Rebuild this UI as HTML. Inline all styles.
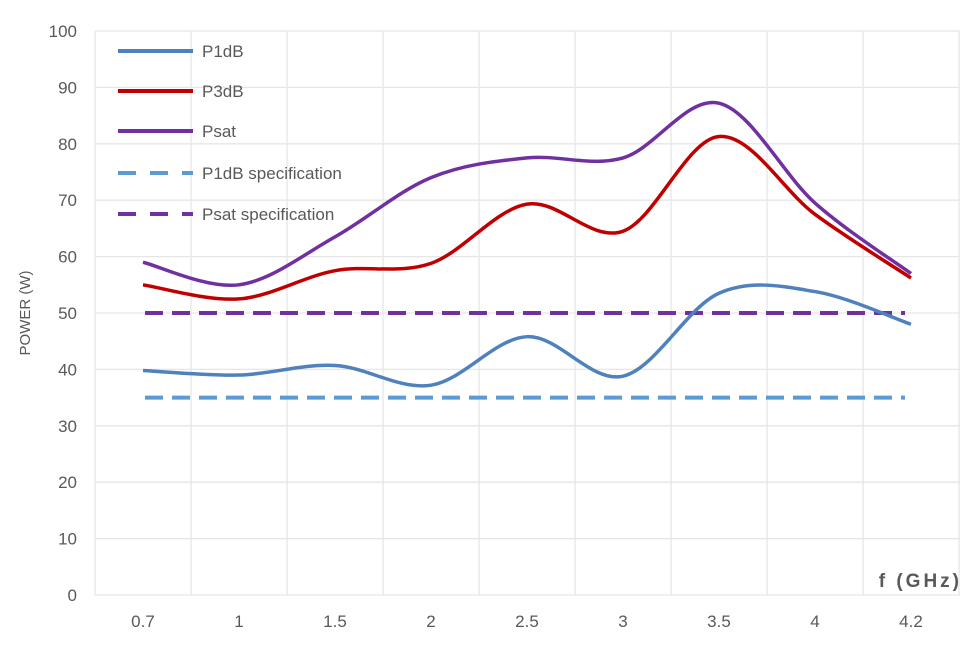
<!DOCTYPE html>
<html><head><meta charset="utf-8"><style>
body{margin:0;background:#fff;}
svg text{font-family:"Liberation Sans",sans-serif;fill:#595959;}
</style></head><body>
<svg id="s" width="970" height="649" xmlns="http://www.w3.org/2000/svg">
<g id="grid" stroke="#e6e6e6" stroke-width="1.3"></g>
<g id="yl" font-size="17" text-anchor="end"></g>
<g id="xl" font-size="17" text-anchor="middle"></g>
<text x="30" y="313" font-size="15" text-anchor="middle" transform="rotate(-90 30 313)">POWER (W)</text>
<text x="962" y="587" font-size="19" text-anchor="end" font-weight="bold" letter-spacing="3">f (GHz)</text>
<line x1="145" y1="397.6" x2="905" y2="397.6" stroke="#5b9bd5" stroke-width="4" stroke-dasharray="18,9"/>
<line x1="145" y1="313" x2="905" y2="313" stroke="#7030a0" stroke-width="4" stroke-dasharray="18,9"/>
<path id="p1" fill="none" stroke="#4f81bd" stroke-width="3.5"/>
<path id="p3" fill="none" stroke="#c00000" stroke-width="3.5"/>
<path id="ps" fill="none" stroke="#7030a0" stroke-width="3.5"/>
<g font-size="17">
<line x1="118" y1="51" x2="193" y2="51" stroke="#4f81bd" stroke-width="4"/><text x="202" y="57">P1dB</text>
<line x1="118" y1="91" x2="193" y2="91" stroke="#c00000" stroke-width="4"/><text x="202" y="97">P3dB</text>
<line x1="118" y1="131" x2="193" y2="131" stroke="#7030a0" stroke-width="4"/><text x="202" y="137">Psat</text>
<line x1="118" y1="173" x2="193" y2="173" stroke="#5b9bd5" stroke-width="4" stroke-dasharray="18,14"/><text x="202" y="179">P1dB specification</text>
<line x1="118" y1="214" x2="193" y2="214" stroke="#7030a0" stroke-width="4" stroke-dasharray="18,14"/><text x="202" y="220">Psat specification</text>
</g>
</svg>
<script>
var ns="http://www.w3.org/2000/svg";
function el(p,t,a,tx){var e=document.createElementNS(ns,t);for(var k in a)e.setAttribute(k,a[k]);if(tx)e.textContent=tx;document.getElementById(p).appendChild(e);}
for(var i=0;i<=10;i++){var y=595-56.4*i;el("grid","line",{x1:95,x2:960,y1:y,y2:y});el("yl","text",{x:77,y:y+6},String(i*10));}
for(var i=0;i<=9;i++){var x=95+96*i;el("grid","line",{x1:x,x2:x,y1:31,y2:595});}
var labs=["0.7","1","1.5","2","2.5","3","3.5","4","4.2"];
labs.forEach(function(l,i){el("xl","text",{x:143+96*i,y:627},l);});
function path(v){var p=v.map(function(d,i){return [143+96*i,595-5.64*d];});var s="M"+p[0];
for(var i=0;i<p.length-1;i++){var a=p[Math.max(0,i-1)],b=p[i],c=p[i+1],d=p[Math.min(p.length-1,i+2)];
var t=6;s+="C"+(b[0]+(c[0]-a[0])/t)+","+(b[1]+(c[1]-a[1])/t)+" "+(c[0]-(d[0]-b[0])/t)+","+(c[1]-(d[1]-b[1])/t)+" "+c;}return s;}
document.getElementById("p1").setAttribute("d",path([39.8,39,40.7,37.2,45.8,38.8,53.5,53.8,48]));
document.getElementById("p3").setAttribute("d",path([55,52.5,57.5,58.8,69.3,64.5,81.3,67.5,56.2]));
document.getElementById("ps").setAttribute("d",path([59,55,63.5,74,77.5,77.5,87.2,69.5,57]));
</script>
</body></html>
